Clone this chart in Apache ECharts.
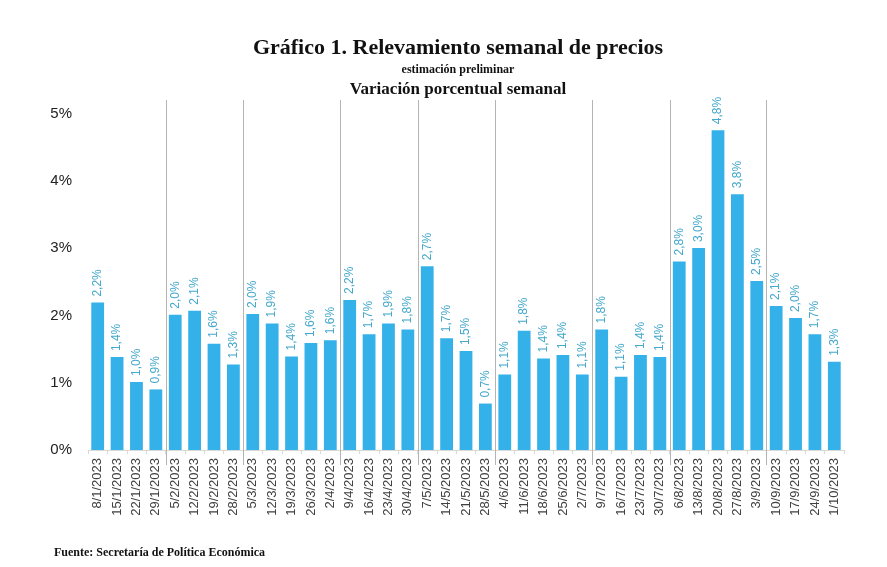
<!DOCTYPE html>
<html>
<head>
<meta charset="utf-8">
<script src="https://cdn.jsdelivr.net/npm/echarts@6/dist/echarts.min.js"></script>
<style>html,body{margin:0;padding:0;background:#fff;}#c{width:887px;height:567px;}</style>
</head>
<body>
<div id="c"></div>
<script>
const categories = ['8/1/2023','15/1/2023','22/1/2023','29/1/2023','5/2/2023','12/2/2023','19/2/2023','28/2/2023','5/3/2023','12/3/2023','19/3/2023','26/3/2023','2/4/2023','9/4/2023','16/4/2023','23/4/2023','30/4/2023','7/5/2023','14/5/2023','21/5/2023','28/5/2023','4/6/2023','11/6/2023','18/6/2023','25/6/2023','2/7/2023','9/7/2023','16/7/2023','23/7/2023','30/7/2023','6/8/2023','13/8/2023','20/8/2023','27/8/2023','3/9/2023','10/9/2023','17/9/2023','24/9/2023','1/10/2023'];
const values = [2.19,1.38,1.01,0.90,2.01,2.07,1.58,1.27,2.02,1.88,1.39,1.59,1.63,2.23,1.72,1.88,1.79,2.73,1.66,1.47,0.69,1.12,1.77,1.36,1.41,1.12,1.79,1.09,1.41,1.38,2.80,3.00,4.75,3.80,2.51,2.14,1.96,1.72,1.31];
const groupStarts = ['5/2/2023','5/3/2023','9/4/2023','7/5/2023','4/6/2023','9/7/2023','6/8/2023','10/9/2023'];
const yTicks = [0,1,2,3,4,5];
const yTop = 5.2;

const chart = echarts.init(document.getElementById('c'), null, {renderer:'canvas'});
const serif = '"Liberation Serif", "Times New Roman", serif';
const sans = '"Liberation Sans", Arial, sans-serif';

chart.setOption({
  backgroundColor: '#ffffff',
  animation: false,
  title: [
    {text: 'Gráfico 1. Relevamiento semanal de precios', left: 453, top: 32, textAlign: 'center',
     textStyle: {fontFamily: serif, fontWeight: 'bold', fontSize: 22, color: '#111'}},
    {text: 'estimación preliminar', left: 453, top: 59, textAlign: 'center',
     textStyle: {fontFamily: serif, fontWeight: 'bold', fontSize: 12, color: '#111'}},
    {text: 'Variación porcentual semanal', left: 453, top: 76, textAlign: 'center',
     textStyle: {fontFamily: serif, fontWeight: 'bold', fontSize: 17, color: '#111'}},
    {text: 'Fuente: Secretaría de Política Económica', left: 49, top: 542,
     textStyle: {fontFamily: serif, fontWeight: 'bold', fontSize: 12, color: '#111'}}
  ],
  grid: {left: 88, right: 43, top: 100, bottom: 117, containLabel: false},
  xAxis: {type: 'category', data: categories, boundaryGap: true,
     axisLine: {show: true, lineStyle: {color: '#d9d9d9', width: 1}},
     axisTick: {show: true, length: 4, lineStyle: {color: '#d9d9d9'}},
     axisLabel: {rotate: 90, interval: 0, fontFamily: sans, fontSize: 13, color: '#404040', margin: 8},
     splitLine: {show: false}
  },
  yAxis: {
    type: 'value', min: 0, max: yTop, interval: 1,
    axisLine: {show: false}, axisTick: {show: false}, splitLine: {show: false},
    axisLabel: {fontFamily: sans, fontSize: 15, color: '#222', margin: 16,
      formatter: (v) => yTicks.indexOf(v) >= 0 ? v + '%' : ''}
  },
  series: [{
    type: 'bar', data: values, barCategoryGap: '34%',
    itemStyle: {color: '#35b1e9'},
    label: {show: true, position: 'top', rotate: 90, align: 'left', verticalAlign: 'middle', distance: 6,
      fontFamily: sans, fontSize: 12, color: '#45a8cc',
      formatter: (p) => p.value.toFixed(1).replace('.', ',') + '%'}
  }, {
    type: 'custom', clip: false, silent: true,
    data: groupStarts.map(c => [categories.indexOf(c), 0]),
    encode: {x: 0, y: 1},
    renderItem: (params, api) => {
      const idx = api.value(0);
      const top = api.coord([idx, yTop]);
      const bot = api.coord([idx, 0]);
      const w = api.size([1, 0])[0];
      const x = Math.round(top[0] - w / 2) + 0.5;
      return {type: 'line', shape: {x1: x, y1: top[1], x2: x, y2: bot[1] + 15},
              style: {stroke: '#b4b4b4', lineWidth: 1}};
    }
  }]
});
</script>
</body>
</html>
